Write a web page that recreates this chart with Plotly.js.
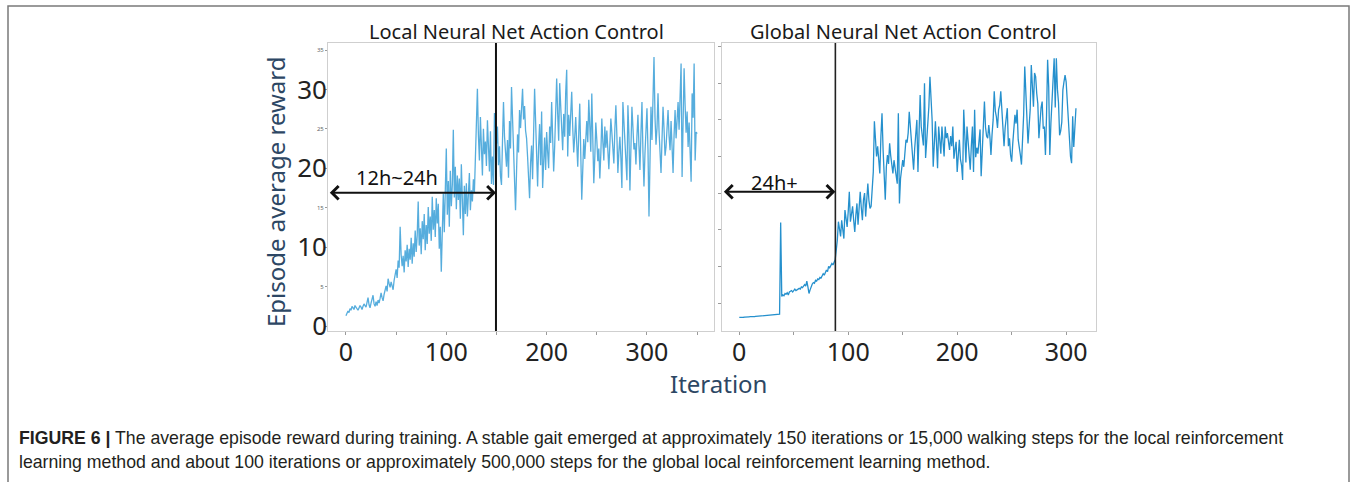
<!DOCTYPE html>
<html>
<head>
<meta charset="utf-8">
<script src="https://cdn.plot.ly/plotly-3.0.1.min.js"></script>
<style>
  html, body { margin: 0; padding: 0; background: #ffffff; }
  #chart { width: 1354px; height: 482px; }
</style>
</head>
<body>
<div id="chart"></div>
<script>
// Episode average reward per training iteration, local controller
const localReward = [
  1.3,1.6,1.9,1.7,2.2,2.0,2.5,2.3,2.1,2.6,
  2.4,2.2,2.0,2.3,2.6,2.4,2.1,2.5,2.8,2.6,
  2.4,3.0,3.6,2.7,2.3,2.9,3.4,3.9,2.8,2.5,
  3.1,2.6,3.3,2.9,3.5,4.2,3.6,3.2,4.0,4.6,
  5.1,4.4,6.0,5.4,4.9,5.6,5.2,4.6,5.8,6.4,
  7.2,6.1,8.3,7.4,12.6,9.0,7.6,8.9,6.8,9.6,
  8.2,10.3,7.5,9.8,8.4,11.2,7.9,10.5,8.8,12.1,
  9.4,11.5,15.8,10.2,12.4,9.1,13.3,11.0,14.2,9.6,
  12.8,10.4,15.1,11.7,13.9,10.8,16.4,12.2,14.7,11.3,
  16.2,13.0,15.5,9.8,12.6,6.9,13.4,16.8,11.9,17.5,
  22.5,14.1,18.4,12.6,19.7,15.2,17.9,24.9,16.3,20.2,
  14.8,19.1,16.0,18.7,13.6,20.5,15.4,11.5,17.8,14.2,
  18.1,13.9,16.6,19.4,14.7,17.2,15.8,18.6,16.9,21.5,
  22.8,30.1,24.2,21.0,26.5,22.4,19.1,25.0,21.8,23.4,
  20.3,26.1,22.0,19.6,24.7,18.0,21.5,17.9,27.0,25.6,
  23.1,25.3,20.4,22.8,19.0,17.9,23.5,28.4,24.1,21.2,
  20.2,23.6,18.8,26.0,22.5,30.3,25.7,21.4,18.0,14.7,
  19.5,24.3,22.0,27.4,25.1,28.0,30.1,26.2,27.9,24.8,
  23.8,21.5,19.2,16.2,20.7,22.9,18.6,24.5,30.1,26.0,
  21.3,17.7,22.8,25.6,20.4,27.2,17.5,21.0,23.9,19.8,
  24.6,22.1,20.0,25.3,23.2,28.4,24.9,19.6,22.7,26.8,
  31.4,27.0,23.5,30.8,28.1,25.4,22.3,26.9,24.0,29.6,
  32.5,21.5,26.8,24.1,27.3,29.7,25.2,22.0,24.0,26.5,
  23.1,20.2,24.4,28.2,21.9,16.0,19.8,23.7,21.2,24.9,
  26.0,23.3,28.7,25.5,22.1,29.5,24.6,18.1,21.4,25.8,
  23.6,20.9,22.5,18.7,21.8,26.3,23.4,21.0,25.3,22.6,
  24.8,21.9,19.9,23.0,26.3,24.5,22.3,20.6,25.0,28.0,
  24.2,19.4,22.1,24.0,21.3,17.5,28.4,25.9,22.6,20.7,
  18.5,28.0,24.3,17.2,21.6,27.8,25.2,22.4,23.2,20.5,
  24.1,26.8,22.9,19.8,24.5,28.4,22.0,17.7,21.9,25.0,
  27.6,22.4,13.9,20.8,27.8,23.6,28.9,34.1,26.5,23.0,
  25.1,29.5,24.8,22.3,19.4,23.7,27.8,25.0,21.6,22.7,
  25.9,27.4,24.1,22.3,26.0,21.5,19.4,24.2,27.4,23.8,
  25.6,28.4,24.9,29.3,33.3,18.9,26.1,32.7,28.0,24.5,
  27.2,22.7,25.8,21.1,18.3,29.5,26.4,33.3,21.0,24.6,
  24.4
];

// Episode average reward per training iteration, global controller
const globalReward = [
  3.04,3.02,3.05,3.03,3.06,3.08,3.07,3.10,3.09,3.12,
  3.13,3.11,3.15,3.16,3.14,3.18,3.19,3.21,3.20,3.23,
  3.24,3.22,3.26,3.27,3.29,3.28,3.31,3.32,3.30,3.34,
  3.35,3.37,3.36,3.39,3.40,3.42,3.44,3.47,16.0,5.9,
  6.1,6.0,6.3,6.2,6.4,6.1,6.5,6.6,6.7,6.5,
  6.8,6.9,6.7,6.8,6.8,7.0,6.9,7.2,7.1,7.3,
  7.5,7.3,8.0,7.2,6.3,6.8,7.4,7.6,7.8,7.7,
  8.1,8.0,8.3,8.2,8.5,8.4,8.7,9.0,8.8,9.2,
  9.5,9.3,10.0,9.8,10.1,10.4,10.2,10.6,10.9,12.2,
  13.6,16.1,15.0,14.1,16.3,15.2,13.8,17.7,16.0,15.4,
  17.5,20.2,16.1,17.4,18.2,16.3,14.7,17.0,18.6,15.7,
  17.9,20.2,18.0,16.3,19.1,20.0,16.8,19.5,21.3,19.0,
  17.9,18.2,20.6,22.9,29.8,26.2,25.0,26.4,24.1,22.7,
  27.8,30.9,25.9,21.4,19.1,23.6,25.2,24.0,26.8,25.1,
  23.9,22.7,24.5,23.4,22.5,21.3,30.9,18.6,22.0,23.5,
  24.5,23.6,25.8,27.3,26.9,28.2,31.1,29.1,25.9,24.4,
  23.2,26.1,28.5,30.0,22.9,28.1,33.4,29.1,27.2,26.5,
  35.0,24.8,27.1,28.9,31.8,35.9,33.0,30.0,23.6,27.4,
  29.8,26.8,23.4,29.1,27.3,25.4,29.1,27.0,25.0,29.1,
  27.5,28.2,26.6,25.9,27.8,26.4,29.1,24.7,26.0,27.0,
  22.9,25.9,27.3,24.6,23.8,21.8,31.4,27.9,24.2,29.1,
  27.0,24.6,23.2,26.5,29.1,22.9,31.4,24.9,26.2,25.4,
  27.8,28.7,22.3,25.5,29.1,32.5,29.0,27.8,27.5,29.3,
  27.8,25.2,28.0,30.0,33.9,31.2,30.4,28.9,31.4,32.0,
  33.9,31.0,28.7,26.4,28.9,30.5,31.6,26.4,27.5,25.2,
  24.3,26.8,29.1,30.7,29.5,31.4,27.3,25.8,25.2,23.9,
  27.0,30.7,37.3,33.0,31.3,26.8,29.1,31.4,37.5,34.1,
  31.8,36.4,35.9,33.6,32.2,27.5,30.3,31.7,32.5,28.8,
  29.1,25.2,30.6,38.2,34.5,25.2,29.5,32.5,35.4,38.4,
  31.7,38.4,34.2,32.3,27.9,28.5,29.7,34.1,35.2,36.1,
  35.2,32.6,30.4,26.4,25.0,24.1,30.5,26.3,29.6,31.6
];

// Axis tick values and labels
const xTickMajor = [0, 100, 200, 300];
const xTickMinorLocal = [50, 150, 250, 350];
const xTickMinorGlobal = [50, 150, 250];
const yTickLocal = [0, 5, 10, 15, 20, 25, 30, 35];
const yTickLocalText = ['', '5', '', '15', '', '25', '', '35'];
const yTickLocalBig = [0, 10, 20, 30];
const yTickGlobal = [5, 10, 15, 20, 25, 30, 35, 40];

// Milestones: iteration where a stable gait appears, and the arrow height
const localStableIter = 149.5;
const globalStableIter = 88.2;
const localArrowLevel = 16.9;
const globalArrowLevel = 20.2;

const localIter = localReward.map((_, i) => i);
const globalIter = globalReward.map((_, i) => i);

const W = 1354, H = 482;
const px = v => v / W;          // canvas x pixel -> paper fraction
const py = v => 1 - v / H;      // canvas y pixel -> paper fraction

const FONT = '"Noto Sans", "Open Sans", sans-serif';
const CAPTION_FONT = '"Liberation Sans", Arial, sans-serif';
const frameColor = '#cfcfcf';
const tickColor = '#9a9a9a';

const traces = [
  {
    x: localIter, y: localReward, xaxis: 'x', yaxis: 'y',
    type: 'scatter', mode: 'lines',
    line: { color: 'rgba(38,150,212,0.78)', width: 1.3 },
    hoverinfo: 'x+y'
  },
  {
    x: [], y: [], xaxis: 'x', yaxis: 'y3',
    type: 'scatter', mode: 'lines', hoverinfo: 'skip', showlegend: false
  },
  {
    x: globalIter, y: globalReward, xaxis: 'x2', yaxis: 'y2',
    type: 'scatter', mode: 'lines',
    line: { color: '#2590cd', width: 1.3 },
    hoverinfo: 'x+y'
  }
];

const baseX = {
  showgrid: false, zeroline: false,
  showline: true, linecolor: frameColor, linewidth: 1, mirror: true,
  ticks: 'outside', ticklen: 3, tickcolor: tickColor, tickwidth: 1,
  tickmode: 'array', tickvals: xTickMajor,
  ticklabelstandoff: -4,
  tickfont: { family: FONT, size: 25, color: '#222222' }
};

const layout = {
  width: W, height: H,
  margin: { l: 0, r: 0, t: 0, b: 0 },
  paper_bgcolor: '#ffffff', plot_bgcolor: '#ffffff',
  showlegend: false,
  xaxis: Object.assign({}, baseX, {
    domain: [px(328), px(714)], range: [-17.9, 366.8], anchor: 'y',
    minor: { tickmode: 'array', tickvals: xTickMinorLocal, ticks: 'outside', ticklen: 3, tickcolor: tickColor }
  }),
  yaxis: {
    domain: [py(331), py(43)], range: [-0.63, 35.89], anchor: 'x',
    showgrid: false, zeroline: false,
    showline: true, linecolor: frameColor, linewidth: 1, mirror: true,
    ticks: 'outside', ticklen: 2, tickcolor: tickColor,
    tickmode: 'array', tickvals: yTickLocal, ticktext: yTickLocalText,
    tickfont: { family: FONT, size: 6, color: '#666666' }
  },
  yaxis3: {
    overlaying: 'y', anchor: 'x', side: 'left',
    range: [-0.63, 35.89],
    showgrid: false, zeroline: false, showline: false, ticks: '',
    tickmode: 'array', tickvals: yTickLocalBig,
    tickfont: { family: FONT, size: 26, color: '#222222' }
  },
  xaxis2: Object.assign({}, baseX, {
    domain: [px(722), px(1096)], range: [-15.85, 327.4], anchor: 'y2',
    minor: { tickmode: 'array', tickvals: xTickMinorGlobal, ticks: 'outside', ticklen: 3, tickcolor: tickColor }
  }),
  yaxis2: {
    domain: [py(331), py(43)], range: [1.18, 40.5], anchor: 'x2',
    showgrid: false, zeroline: false,
    showline: true, linecolor: frameColor, linewidth: 1, mirror: true,
    ticks: 'outside', ticklen: 3, tickcolor: tickColor,
    tickmode: 'array', tickvals: yTickGlobal, showticklabels: false
  },
  shapes: [
    // figure frame
    { type: 'rect', xref: 'paper', yref: 'paper',
      x0: px(8), x1: px(1349), y0: -0.05, y1: py(6),
      line: { color: '#7a7a7a', width: 1.5 }, fillcolor: 'rgba(0,0,0,0)' },
    // stable-gait markers
    { type: 'line', xref: 'x', yref: 'y domain',
      x0: localStableIter, x1: localStableIter, y0: 0, y1: 1,
      line: { color: '#111111', width: 2 } },
    { type: 'line', xref: 'x2', yref: 'y2 domain',
      x0: globalStableIter, x1: globalStableIter, y0: 0, y1: 1,
      line: { color: '#222222', width: 1.6 } }
  ],
  annotations: [
    // panel titles
    { xref: 'paper', yref: 'paper', x: px(516), y: py(32),
      text: 'Local Neural Net Action Control', showarrow: false,
      xanchor: 'center', yanchor: 'middle',
      font: { family: FONT, size: 20, color: '#1a1a1a' } },
    { xref: 'paper', yref: 'paper', x: px(904), y: py(32),
      text: 'Global Neural Net Action Control', showarrow: false,
      xanchor: 'center', yanchor: 'middle',
      font: { family: FONT, size: 20, color: '#1a1a1a' } },
    // axis titles
    { xref: 'paper', yref: 'paper', x: px(276), y: py(192),
      text: 'Episode average reward', textangle: -90, showarrow: false,
      xanchor: 'center', yanchor: 'middle',
      font: { family: FONT, size: 24, color: '#2d4764' } },
    { xref: 'paper', yref: 'paper', x: px(718), y: py(383),
      text: 'Iteration', showarrow: false,
      xanchor: 'center', yanchor: 'middle',
      font: { family: FONT, size: 24, color: '#2d4764' } },
    // duration arrows
    { xref: 'x', yref: 'y', axref: 'x', ayref: 'y',
      x: localStableIter, y: localArrowLevel, ax: -17.6, ay: localArrowLevel,
      text: '', showarrow: true, arrowside: 'end+start',
      arrowhead: 4, startarrowhead: 4, arrowsize: 1.3, startarrowsize: 1.3,
      arrowwidth: 2, arrowcolor: '#111111', standoff: 0, startstandoff: 0 },
    { xref: 'x', yref: 'y', x: 50.8, y: 18.8,
      text: '12h~24h', showarrow: false, xanchor: 'center', yanchor: 'middle',
      font: { family: FONT, size: 20, color: '#111111' } },
    { xref: 'x2', yref: 'y2', axref: 'x2', ayref: 'y2',
      x: globalStableIter, y: globalArrowLevel, ax: -15.5, ay: globalArrowLevel,
      text: '', showarrow: true, arrowside: 'end+start',
      arrowhead: 4, startarrowhead: 4, arrowsize: 1.3, startarrowsize: 1.3,
      arrowwidth: 2, arrowcolor: '#111111', standoff: 0, startstandoff: 0 },
    { xref: 'x2', yref: 'y2', x: 32.7, y: 21.4,
      text: '24h+', showarrow: false, xanchor: 'center', yanchor: 'middle',
      font: { family: FONT, size: 20, color: '#111111' } },
    // caption
    { xref: 'paper', yref: 'paper', x: px(17), y: py(438),
      text: '<b>FIGURE 6 |</b> The average episode reward during training. A stable gait emerged at approximately 150 iterations or 15,000 walking steps for the local reinforcement',
      showarrow: false, xanchor: 'left', yanchor: 'middle',
      font: { family: CAPTION_FONT, size: 17.7, color: '#231f20' } },
    { xref: 'paper', yref: 'paper', x: px(17), y: py(462),
      text: 'learning method and about 100 iterations or approximately 500,000 steps for the global local reinforcement learning method.',
      showarrow: false, xanchor: 'left', yanchor: 'middle',
      font: { family: CAPTION_FONT, size: 17.7, color: '#231f20' } }
  ]
};

Plotly.newPlot('chart', traces, layout, { staticPlot: true, displayModeBar: false });
</script>
</body>
</html>
